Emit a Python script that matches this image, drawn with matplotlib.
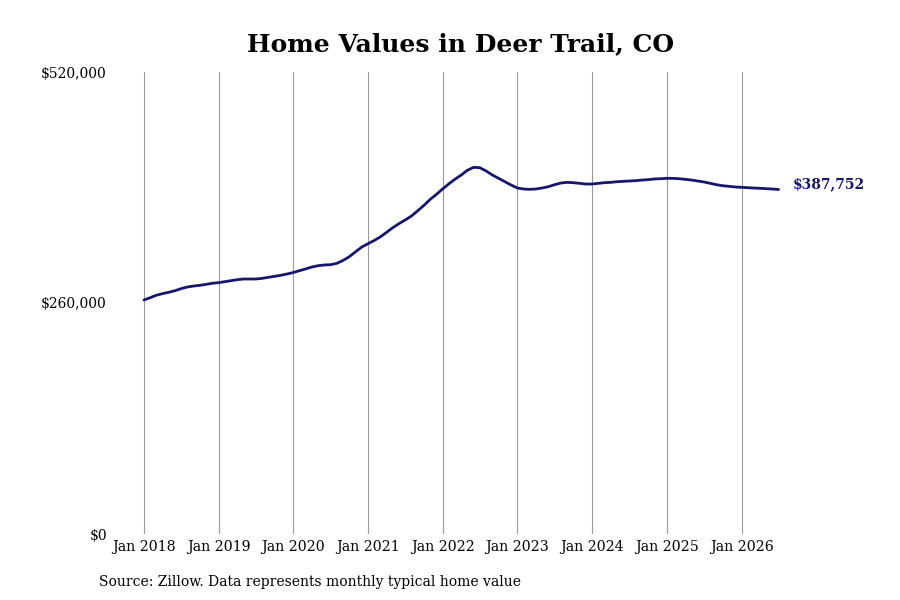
import datetime as dt

import matplotlib.pyplot as plt
import matplotlib.dates as mdates
import pandas as pd

# Typical home value per month from Jan 2018
start = "2018-01-01"
values = [
    263400, 266000, 268600, 270500, 272000, 273800, 276100, 278000,
    279100, 279900, 281000, 282200, 282900, 284000, 285100, 286200,
    287000, 287000, 287000, 287700, 288900, 290000, 291200, 292600,
    294300, 296400, 298300, 300500, 302000, 302800, 303100, 304600,
    308000, 312100, 317700, 323000, 326800, 330500, 334300, 339500,
    344700, 349300, 353400, 357900, 363900, 369900, 376700, 382300,
    388500, 394300, 399200, 404000, 409300, 412700, 412300, 408600,
    404000, 400300, 396500, 392800, 389400, 388300, 387900, 388300,
    389400, 390900, 393100, 395000, 395800, 395400, 394700, 393900,
    393900, 394700, 395400, 395800, 396500, 396900, 397300, 397700,
    398400, 398800, 399600, 399900, 400300, 400300, 399900, 399200,
    398400, 397300, 396200, 394700, 393100, 392000, 391300, 390600,
    390200, 389800, 389400, 389100, 388700, 388300, 387752,
]
dates = pd.date_range(start, periods=len(values), freq="MS")
tick_years = list(range(2018, 2027))
y_ticks = [0, 260000, 520000]
last_label = "$387,752"

navy = "#16166a"

plt.rcParams["font.family"] = "DejaVu Serif"

fig = plt.figure(figsize=(9, 6), dpi=100)
ax = fig.add_axes([0.1311, 0.11, 0.7467, 0.77])

ax.plot(dates, values, color=navy, lw=2.0, solid_capstyle="round",
        solid_joinstyle="round")

ax.set_ylim(0, 520000)
ax.set_xlim(dt.date(2018, 1, 1) - dt.timedelta(days=127),
            dt.date(2018, 1, 1) + dt.timedelta(days=3159))

ax.set_yticks(y_ticks)
ax.set_yticklabels([f"${v:,.0f}" for v in y_ticks], fontsize=10)
ax.set_xticks([dt.date(y, 1, 1) for y in tick_years])
ax.xaxis.set_major_formatter(mdates.DateFormatter("Jan %Y"))
ax.tick_params(axis="x", labelsize=10.2, length=0, pad=4)
ax.tick_params(axis="y", length=0, pad=8)

ax.grid(axis="x", color="#999999", lw=0.8)
ax.grid(axis="y", visible=False)
for s in ax.spines.values():
    s.set_visible(False)

ax.annotate(last_label, xy=(dates[-1], values[-1]), xytext=(10, 4),
            textcoords="offset points", fontsize=10, fontweight="bold",
            color=navy, va="center", ha="left", annotation_clip=False)

fig.text(0.512, 0.927, "Home Values in Deer Trail, CO", ha="center",
         va="center", fontsize=18, fontweight="bold")
fig.text(0.11, 0.03, "Source: Zillow. Data represents monthly typical home value",
         ha="left", va="center", fontsize=10)

fig.savefig("out.png", dpi=100)
